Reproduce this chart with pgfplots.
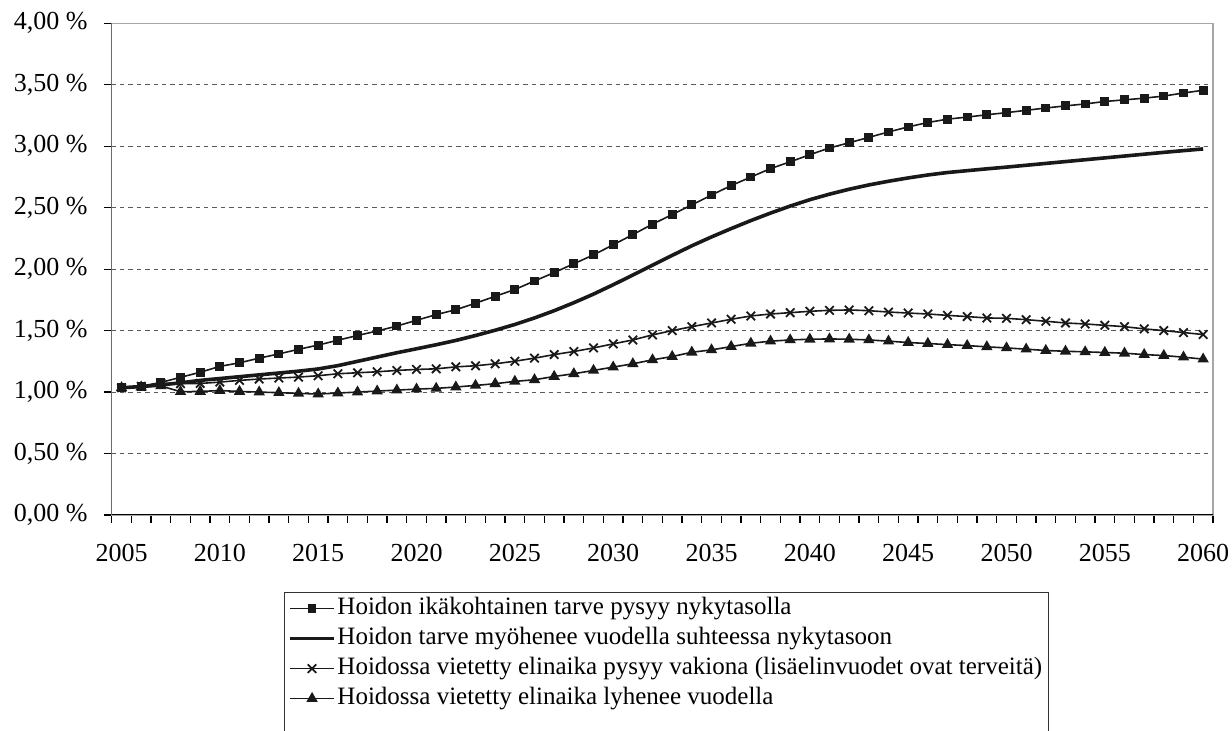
\documentclass[border=0pt]{standalone}
\usepackage{fontspec}
\setmainfont{Liberation Serif}
\usepackage{pgfplots}
\pgfplotsset{compat=1.18}
\usepackage{pgfplotstable}

\pgfplotstableread{
year s1 s2 s3 s4
2005 1.035 1.035 1.035 1.035
2006 1.048 1.045 1.046 1.041
2007 1.078 1.058 1.072 1.050
2008 1.120 1.075 1.068 1.003
2009 1.161 1.095 1.070 1.005
2010 1.209 1.110 1.081 1.012
2011 1.238 1.125 1.095 1.005
2012 1.276 1.140 1.106 1.000
2013 1.310 1.155 1.114 0.995
2014 1.348 1.170 1.122 0.989
2015 1.382 1.188 1.133 0.984
2016 1.422 1.215 1.149 0.992
2017 1.460 1.250 1.157 1.000
2018 1.497 1.285 1.165 1.008
2019 1.537 1.320 1.176 1.016
2020 1.584 1.352 1.184 1.024
2021 1.630 1.385 1.189 1.030
2022 1.670 1.420 1.205 1.041
2023 1.723 1.460 1.214 1.054
2024 1.779 1.503 1.230 1.068
2025 1.834 1.550 1.251 1.087
2026 1.904 1.603 1.276 1.100
2027 1.972 1.662 1.305 1.127
2028 2.044 1.727 1.330 1.149
2029 2.116 1.797 1.359 1.176
2030 2.198 1.873 1.392 1.203
2031 2.281 1.952 1.424 1.230
2032 2.366 2.032 1.465 1.262
2033 2.444 2.112 1.500 1.289
2034 2.523 2.190 1.532 1.324
2035 2.603 2.262 1.562 1.343
2036 2.680 2.330 1.592 1.370
2037 2.749 2.395 1.619 1.397
2038 2.818 2.456 1.635 1.414
2039 2.873 2.513 1.646 1.424
2040 2.931 2.565 1.657 1.430
2041 2.986 2.610 1.665 1.432
2042 3.028 2.650 1.668 1.430
2043 3.072 2.685 1.662 1.424
2044 3.116 2.715 1.651 1.414
2045 3.157 2.742 1.643 1.403
2046 3.193 2.766 1.635 1.395
2047 3.220 2.786 1.624 1.386
2048 3.237 2.801 1.614 1.378
2049 3.256 2.816 1.603 1.368
2050 3.273 2.830 1.600 1.359
2051 3.292 2.845 1.589 1.349
2052 3.311 2.860 1.576 1.338
2053 3.328 2.875 1.562 1.332
2054 3.344 2.890 1.554 1.327
2055 3.364 2.905 1.543 1.322
2056 3.377 2.920 1.532 1.316
2057 3.391 2.935 1.514 1.305
2058 3.408 2.950 1.500 1.297
2059 3.433 2.964 1.484 1.284
2060 3.455 2.978 1.468 1.268
}\datatable

\begin{document}
\begin{tikzpicture}
\begin{axis}[
  at={(55.85pt,108pt)}, anchor=south west,
  scale only axis, width=550.65pt, height=245.85pt,
  xmin=2004.5, xmax=2060.5, ymin=0, ymax=4,
  xtick={2005,2010,...,2060},
  xticklabels={2005,2010,2015,2020,2025,2030,2035,2040,2045,2050,2055,2060},
  minor xtick={2004.5,2005.5,...,2060.5},
  ytick={0,0.5,...,4},
  yticklabels={{0,00 \%},{0,50 \%},{1,00 \%},{1,50 \%},{2,00 \%},{2,50 \%},{3,00 \%},{3,50 \%},{4,00 \%}},
  tick align=outside, tick pos=left,
  major tick length=4pt, minor tick length=4pt,
  major x tick style={draw=none},
  tick style={black, line width=0.6pt},
  ymajorgrids,
  grid style={black!65, line width=0.5pt, dash pattern=on 2.2pt off 2pt},
  axis line style={black!35, line width=0.6pt},
  xticklabel style={font=\fontsize{13}{15}\selectfont, yshift=-7pt},
  yticklabel style={font=\fontsize{13}{15}\selectfont, xshift=-4.5pt},
  legend cell align=left,
  legend image code/.code={\draw[mark repeat=2,mark phase=2] plot coordinates {(0cm,0cm) (0.38cm,0cm) (0.76cm,0cm)};},
  legend style={at={(0.1565,-0.1566)}, anchor=north west, draw=black!80, line width=0.6pt,
    font=\fontsize{12.5}{15}\selectfont, inner xsep=2pt, inner ysep=1pt, row sep=1pt,
    nodes={inner sep=1pt, text height=9pt, text depth=3pt}},
]
\addplot[black!90, line width=0.8pt, mark=square*, mark size=1.8pt] table[x=year,y=s1]{\datatable};
\addlegendentry{Hoidon ikäkohtainen tarve pysyy nykytasolla}
\addplot[black!90, line width=1.8pt, no marks] table[x=year,y=s2]{\datatable};
\addlegendentry{Hoidon tarve myöhenee vuodella suhteessa nykytasoon}
\addplot[black!90, line width=0.8pt, mark=x, mark size=3pt, mark options={line width=0.9pt}] table[x=year,y=s3]{\datatable};
\addlegendentry{Hoidossa vietetty elinaika pysyy vakiona (lisäelinvuodet ovat terveitä)}
\addplot[black!90, line width=0.8pt, mark=triangle*, mark size=2.5pt] table[x=year,y=s4]{\datatable};
\addlegendentry{Hoidossa vietetty elinaika lyhenee vuodella}
\addlegendimage{empty legend}
\addlegendentry{}
\draw[black, line width=0.8pt] (rel axis cs:0,1) -- (rel axis cs:0,0) -- (rel axis cs:1,0);
\end{axis}
\pgfresetboundingbox
\useasboundingbox (0,0) rectangle (616pt,365.5pt);
\end{tikzpicture}
\end{document}
